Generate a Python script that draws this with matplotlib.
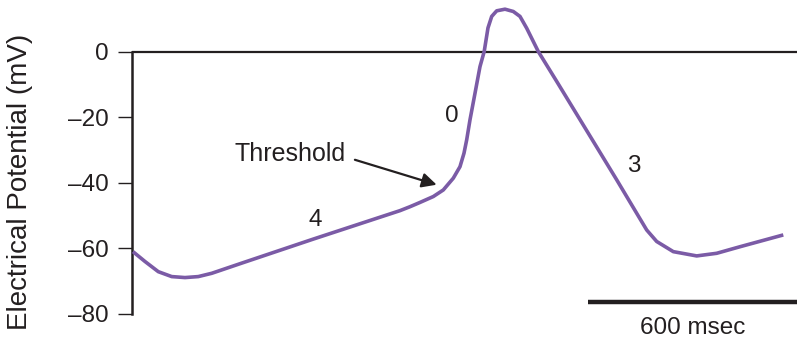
import matplotlib
matplotlib.use("Agg")
import matplotlib.pyplot as plt

plt.rcParams["font.family"] = ["Liberation Sans", "DejaVu Sans"]

# action potential trace (time in msec, potential in mV)
time_ms = [0, 34.5, 72.7, 111.3, 149.5, 187.7, 226.3, 312.5, 517.5, 767.6,
           796.4, 825.1, 863.4, 892.1, 920.9, 940.1, 951.6, 959.4, 968.9,
           983.3, 997.6, 1009.7, 1020.6, 1031.3, 1045.6, 1069.5, 1093.4,
           1112.6, 1131.9, 1165.2, 1218.1, 1390.6, 1448.1, 1476.9, 1505.6,
           1553.4, 1620.6, 1678.1, 1745.1, 1869.6]
potential_mv = [-61.0, -64.0, -67.1, -68.6, -68.9, -68.6, -67.6, -64.5, -57.2,
                -48.5, -47.3, -46.0, -44.2, -42.2, -38.6, -35.1, -31.0, -26.9,
                -20.8, -12.7, -4.6, 0.0, 7.2, 10.7, 12.4, 12.9, 12.2, 10.7, 7.1,
                0.0, -9.1, -39.1, -49.3, -54.4, -57.9, -61.0, -62.3, -61.5,
                -59.5, -55.9]

yticks = [0, -20, -40, -60, -80]
scale_bar_ms = 600

ink = "#231f20"
purple = "#7b5ba6"

fig = plt.figure(figsize=(7.97, 3.40), dpi=100)
ax = fig.add_axes([0.1656, 0.0765, 0.8344, 0.9235])

ax.plot(time_ms, potential_mv, color=purple, lw=2.6, solid_capstyle="butt",
        solid_joinstyle="round", zorder=3)
ax.axhline(0, color=ink, lw=1.6, zorder=2)

ax.set_xlim(-2.9, 1909)
ax.set_ylim(-80, 15.7)

for side in ["top", "right", "bottom"]:
    ax.spines[side].set_visible(False)
ax.spines["left"].set_bounds(-80, 0)
ax.spines["left"].set_linewidth(1.8)
ax.spines["left"].set_color(ink)

ax.set_xticks([])
ax.set_yticks(yticks)
ax.set_yticklabels([f"{v}".replace("-", "\u2013") for v in yticks])
ax.tick_params(axis="y", length=10, width=1.0, color=ink, pad=7,
               labelsize=17.5, labelcolor=ink)
ax.set_ylabel("Electrical Potential (mV)", fontsize=20, color=ink)
ax.yaxis.set_label_coords(-0.149, 0.42)

# phase labels
ax.text(524, -51.3, "4", fontsize=17.5, color=ink, ha="center", va="center")
ax.text(918, -19.8, "0", fontsize=17.5, color=ink, ha="center", va="center")
ax.text(1440, -34.8, "3", fontsize=17.5, color=ink, ha="center", va="center")

ax.text(451, -31.2, "Threshold", fontsize=18, color=ink, ha="center",
        va="center")
ax.annotate("", xy=(873, -40.6), xytext=(638, -33.0),
            arrowprops=dict(arrowstyle="-|>", color=ink, lw=1.6,
                            mutation_scale=22, shrinkA=0, shrinkB=0))

# time scale bar
x_end = ax.get_xlim()[1]
ax.plot([x_end - scale_bar_ms, x_end], [-76.3, -76.3], color=ink, lw=3.2,
        solid_capstyle="butt", clip_on=False)
ax.text(x_end - scale_bar_ms / 2, -84.4, f"{scale_bar_ms} msec", fontsize=17.5,
        color=ink, ha="center", va="center", clip_on=False)

fig.savefig("out.png", dpi=100)
